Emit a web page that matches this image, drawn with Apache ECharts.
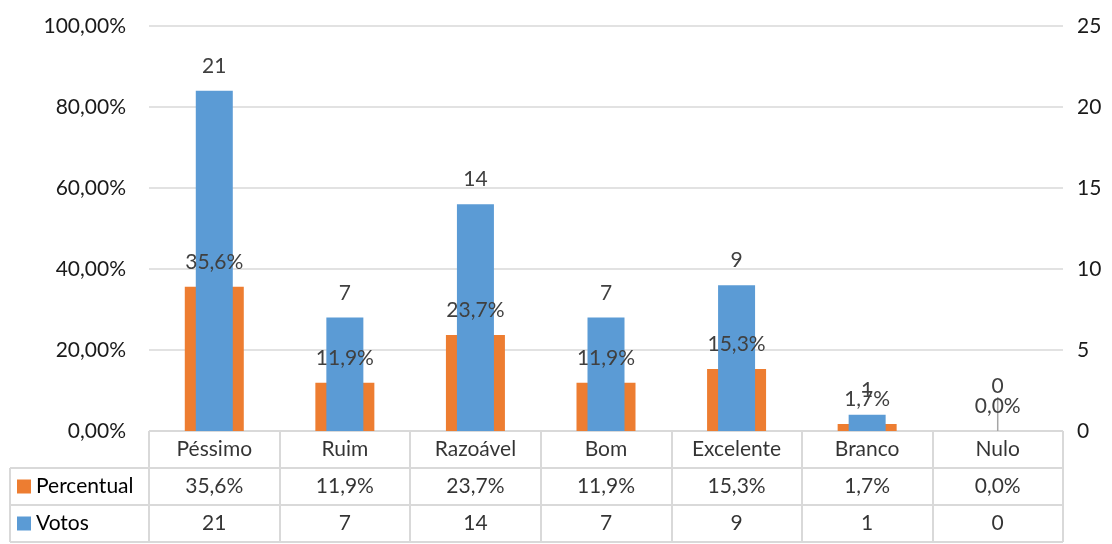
<!DOCTYPE html>
<html>
<head>
<meta charset="utf-8">
<script src="https://cdn.jsdelivr.net/npm/echarts@6/dist/echarts.min.js"></script>
<style>
html,body{margin:0;padding:0;background:#fff;}
#c{width:1112px;height:544px;}
</style>
</head>
<body>
<div id="c"></div>
<script>
const categories = ['Péssimo', 'Ruim', 'Razoável', 'Bom', 'Excelente', 'Branco', 'Nulo'];
const percentual = [35.6, 11.9, 23.7, 11.9, 15.3, 1.7, 0.0];
const votos = [21, 7, 14, 7, 9, 1, 0];
const seriesNames = ['Percentual', 'Votos'];
const leftTicks = { min: 0, max: 100, interval: 20 };
const rightTicks = { min: 0, max: 25, interval: 5 };

const FONT = 'Lato';
const FS = 21;
const ORANGE = '#ED7D31';
const BLUE = '#5B9BD5';
const GRIDC = '#d9d9d9';

const fmtPct = v => v.toFixed(1).replace('.', ',') + '%';
const fmtAxisPct = v => v.toFixed(2).replace('.', ',') + '%';

const PLOT_L = 149, PLOT_R = 1063, PLOT_T = 26, PLOT_B = 431;
const ROW_H = 37;
const TABLE_L = 10;

const tableData = [];
categories.forEach((c, i) => {
  tableData.push([i, 0, c]);
  tableData.push([i, 1, fmtPct(percentual[i])]);
  tableData.push([i, 2, String(votos[i])]);
});

const chart = echarts.init(document.getElementById('c'), null, { renderer: 'canvas' });

const option = {
  animation: false,
  backgroundColor: '#fff',
  textStyle: { fontFamily: FONT },
  grid: [
    { left: PLOT_L, right: 1112 - PLOT_R, top: PLOT_T, bottom: 544 - PLOT_B, outerBoundsMode: 'none', containLabel: false },
    { left: PLOT_L, right: 1112 - PLOT_R, top: PLOT_B, height: ROW_H * 3, outerBoundsMode: 'none', containLabel: false }
  ],
  xAxis: [
    { type: 'category', gridIndex: 0, data: categories, axisLine: { show: false }, axisTick: { show: false }, axisLabel: { show: false }, splitLine: { show: false } },
    { type: 'category', gridIndex: 0, data: categories, show: false },
    { type: 'category', gridIndex: 1, data: categories, position: 'top',
      axisLine: { show: false }, axisTick: { show: false }, axisLabel: { show: false },
      splitLine: { show: true, lineStyle: { color: GRIDC, width: 2 } } }
  ],
  yAxis: [
    { type: 'value', gridIndex: 0, min: leftTicks.min, max: leftTicks.max, interval: leftTicks.interval,
      axisLine: { show: false }, axisTick: { show: false },
      axisLabel: { formatter: fmtAxisPct, color: '#1a1a1a', fontSize: FS, fontFamily: FONT, margin: 23 },
      splitLine: { show: true, lineStyle: { color: GRIDC, width: 1.5 } } },
    { type: 'value', gridIndex: 0, position: 'right', min: rightTicks.min, max: rightTicks.max, interval: rightTicks.interval,
      axisLine: { show: false }, axisTick: { show: false },
      axisLabel: { color: '#1a1a1a', fontSize: FS, fontFamily: FONT, margin: 14, align: 'left' },
      splitLine: { show: false } },
    { type: 'category', gridIndex: 1, inverse: true, data: [''].concat(seriesNames),
      axisLine: { show: false }, axisTick: { show: false },
      axisLabel: {
        margin: PLOT_L - 17, align: 'left',
        formatter: v => v === seriesNames[0] ? '{o|}{t|' + v + '}' : (v === seriesNames[1] ? '{b|}{t|' + v + '}' : ''),
        rich: {
          o: { width: 14, height: 14, backgroundColor: ORANGE },
          b: { width: 14, height: 14, backgroundColor: BLUE },
          t: { fontSize: FS, fontFamily: FONT, color: '#000', padding: [0, 0, 0, 5] }
        }
      },
      splitLine: { show: true, lineStyle: { color: GRIDC, width: 2 } } }
  ],
  series: [
    { name: seriesNames[0], type: 'bar', xAxisIndex: 0, yAxisIndex: 0, data: percentual, barWidth: 59,
      itemStyle: { color: ORANGE },
      label: { show: true, position: 'top', distance: 14, formatter: p => fmtPct(p.value), color: '#404040', fontSize: FS, fontFamily: FONT } },
    { name: seriesNames[1], type: 'bar', xAxisIndex: 1, yAxisIndex: 1, barWidth: 37,
      data: votos.map((v, i) => i === votos.length - 1 && v === 0 ? { value: v, labelLine: { show: true, lineStyle: { color: '#a6a6a6', width: 1.5 } } } : v),
      itemStyle: { color: BLUE },
      labelLayout: p => (p.dataIndex === votos.length - 1 ? { dy: -20 } : {}),
      label: { show: true, position: 'top', distance: 14, color: '#404040', fontSize: FS, fontFamily: FONT } },
    { name: 'tabela', type: 'scatter', xAxisIndex: 2, yAxisIndex: 2, data: tableData, symbolSize: 1,
      itemStyle: { color: 'rgba(0,0,0,0)' }, silent: true,
      label: { show: true, position: 'inside', formatter: p => p.value[2], color: '#000', fontSize: FS, fontFamily: FONT } }
  ],
  graphic: [
    { type: 'line', shape: { x1: TABLE_L, y1: PLOT_B + ROW_H, x2: PLOT_L, y2: PLOT_B + ROW_H }, style: { stroke: GRIDC, lineWidth: 2 } },
    { type: 'line', shape: { x1: TABLE_L, y1: PLOT_B + ROW_H * 2, x2: PLOT_L, y2: PLOT_B + ROW_H * 2 }, style: { stroke: GRIDC, lineWidth: 2 } },
    { type: 'line', shape: { x1: TABLE_L, y1: PLOT_B + ROW_H * 3, x2: PLOT_L, y2: PLOT_B + ROW_H * 3 }, style: { stroke: GRIDC, lineWidth: 2 } },
    { type: 'line', shape: { x1: TABLE_L, y1: PLOT_B + ROW_H, x2: TABLE_L, y2: PLOT_B + ROW_H * 3 }, style: { stroke: GRIDC, lineWidth: 2 } }
  ]
};
chart.setOption(option);
</script>
</body>
</html>
